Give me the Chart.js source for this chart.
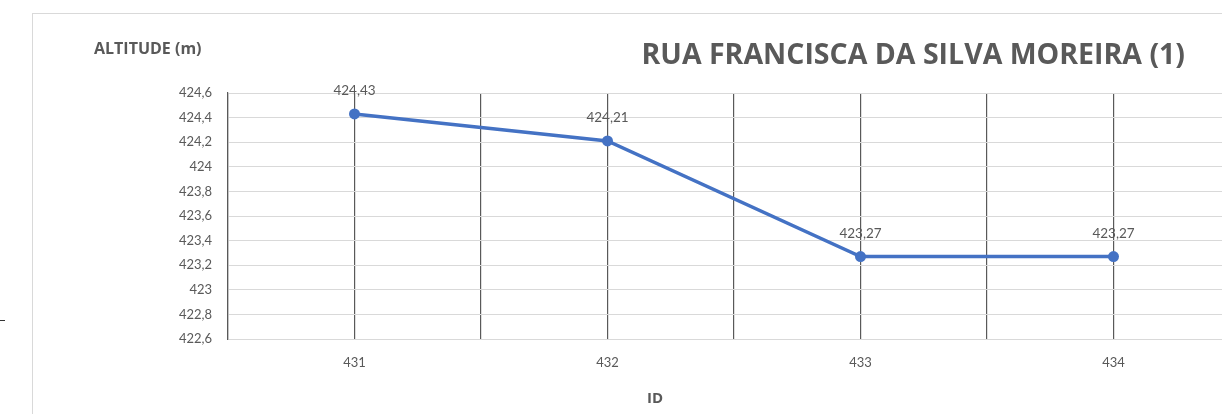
<!DOCTYPE html>
<html>
<head>
<meta charset="utf-8">
<script src="https://cdn.jsdelivr.net/npm/chart.js@4"></script>
<style>
  body { margin: 0; background: #fff; overflow: hidden; width: 1222px; height: 414px; }
  #frame { position: absolute; left: 32px; top: 13px; width: 1215px; height: 400px; border: 1px solid #d9d9d9; }
  #tick { position: absolute; left: 0; top: 320px; width: 5px; height: 1px; background: #333; }
</style>
</head>
<body>
<div id="tick"></div>
<div id="frame"><canvas id="myChart" width="1215" height="400"></canvas></div>
<script>
const ids = ['431', '432', '433', '434'];
const altitudes = [424.43, 424.21, 423.27, 423.27];
const yMin = 422.6;
const yMax = 424.6;
const yStep = 0.2;

const chartTitle = 'RUA FRANCISCA DA SILVA MOREIRA (1)';
const yTitle = 'ALTITUDE (m)';
const xTitle = 'ID';

const grey = '#595959';
const font = 'Lato, "Open Sans", sans-serif';
const titleFont = '"Open Sans", Lato, sans-serif';

function comma(v) {
  return parseFloat(v.toFixed(2)).toString().replace('.', ',');
}

// titles + value labels drawn by hand (no datalabels plugin available)
const textPlugin = {
  id: 'texts',
  afterDatasetsDraw(chart) {
    const c = chart.ctx;
    c.save();
    c.fillStyle = grey;
    c.textAlign = 'center';
    c.textBaseline = 'alphabetic';
    c.font = '13.5px ' + font;
    const meta = chart.getDatasetMeta(0);
    meta.data.forEach((pt, i) => {
      c.fillText(comma(altitudes[i]), pt.x, pt.y - 19);
    });

    c.font = 'bold 28.5px ' + titleFont;
    c.textAlign = 'right';
    c.fillText(chartTitle, 1152, 50);

    c.font = 'bold 16px ' + titleFont;
    c.textAlign = 'left';
    c.fillText(yTitle, 61, 40);

    c.textAlign = 'center';
    c.font = 'bold 15px ' + titleFont;
    c.fillText(xTitle, 622, 389);
    c.restore();
  }
};

const ctx = document.getElementById('myChart').getContext('2d');

new Chart(ctx, {
  type: 'line',
  data: {
    labels: ids,
    datasets: [{
      label: 'Altitude',
      data: altitudes,
      borderColor: '#4472C4',
      backgroundColor: '#4472C4',
      borderWidth: 3.5,
      pointRadius: 5.5,
      pointBorderWidth: 0,
      tension: 0
    }]
  },
  options: {
    responsive: false,
    animation: false,
    layout: { padding: { left: 135, top: 79, right: 8, bottom: 35 } },
    plugins: {
      legend: { display: false },
      tooltip: { enabled: false }
    },
    scales: {
      x: {
        type: 'category',
        offset: true,
        grid: { offset: false, color: grey, lineWidth: 1.2, drawTicks: false },
        border: { color: '#d9d9d9' },
        ticks: { padding: 16, color: grey, font: { family: font, size: 13 } },
        afterFit: s => { s.height = 40; }
      },
      x2: {
        type: 'category',
        position: 'top',
        offset: true,
        grid: { offset: true, color: grey, lineWidth: 1.2, drawTicks: false },
        border: { display: false },
        ticks: { display: false },
        afterFit: s => { s.height = 0; }
      },
      y: {
        min: yMin,
        max: yMax,
        grid: { color: '#d9d9d9', drawTicks: false },
        border: { color: grey, width: 1.2 },
        ticks: {
          stepSize: yStep,
          padding: 16,
          color: grey,
          font: { family: font, size: 13 },
          callback: v => comma(v)
        },
        afterFit: s => { s.width = 60; }
      }
    }
  },
  plugins: [textPlugin]
});
</script>
</body>
</html>
